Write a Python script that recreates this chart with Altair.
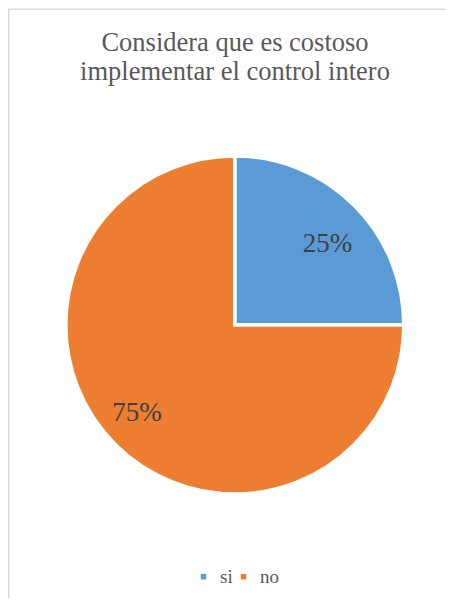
import altair as alt
import pandas as pd

categories = ["si", "no"]
values = [25, 75]
labels = ["25%", "75%"]
colors = ["#5B9BD5", "#ED7D31"]
title_lines = ["Considera que es costoso", "implementar el control intero"]

df = pd.DataFrame({"cat": categories, "val": values, "lab": labels})

W, H = 437, 590
CX, CY = 226.8, 317
R = 169
FONT = "Liberation Serif"

base = alt.Chart(df).transform_window(idx="row_number()")

pie = base.mark_arc(outerRadius=R, stroke="white", strokeWidth=3.5).encode(
    theta=alt.Theta("val:Q", stack=True),
    order=alt.Order("idx:Q"),
    color=alt.Color(
        "cat:N",
        scale=alt.Scale(domain=categories, range=colors),
        legend=alt.Legend(
            title=None,
            orient="none",
            legendX=186,
            legendY=559,
            direction="horizontal",
            symbolType="square",
            symbolSize=30,
            symbolStrokeWidth=0,
            labelFont=FONT,
            labelFontSize=19,
            labelColor="#595959",
            labelOffset=7,
            columnPadding=1,
        ),
    ),
    x=alt.value(CX),
    y=alt.value(CY),
)


def label_layer(cat, dx, dy):
    return base.mark_text(
        font=FONT, fontSize=27, color="#404040", align="center",
        baseline="middle", radius=127, dx=dx, dy=dy
    ).encode(
        theta=alt.Theta("val:Q", stack=True),
        order=alt.Order("idx:Q"),
        text="lab:N",
        x=alt.value(CX),
        y=alt.value(CY),
        opacity=alt.condition(alt.datum.cat == cat, alt.value(1), alt.value(0)),
    )


text_si = label_layer("si", 3, 9)
text_no = label_layer("no", -8, -2)

title = alt.Chart(alt.Data(values=[{}])).mark_text(
    font=FONT, fontSize=26.5, color="#595959", align="center",
    baseline="alphabetic", lineHeight=28.5
).encode(
    text=alt.value(title_lines),
    x=alt.value(227),
    y=alt.value(43),
)

frame = alt.Chart(alt.Data(values=[{}])).mark_line(
    color="#d9d9d9", strokeWidth=1.5
).encode(
    x=alt.value(0.75), y=alt.value(1.25),
    x2=alt.value(W + 20), y2=alt.value(H),
)

frame_left = alt.Chart(alt.Data(values=[{}])).mark_rule(
    color="#d9d9d9", strokeWidth=1.5
).encode(x=alt.value(0.75), y=alt.value(1.25), y2=alt.value(H + 20))

frame_top = alt.Chart(alt.Data(values=[{}])).mark_rule(
    color="#d9d9d9", strokeWidth=1.5
).encode(y=alt.value(1.25), x=alt.value(0), x2=alt.value(W + 20))

chart = alt.layer(frame_left, frame_top, pie, text_si, text_no, title).properties(
    width=W, height=H,
    autosize=alt.AutoSizeParams(type="none"),
    padding=0,
    background="white",
).configure_view(stroke="transparent", strokeWidth=0)

chart.save("out.html", embed_options={"renderer": "svg", "actions": False})
